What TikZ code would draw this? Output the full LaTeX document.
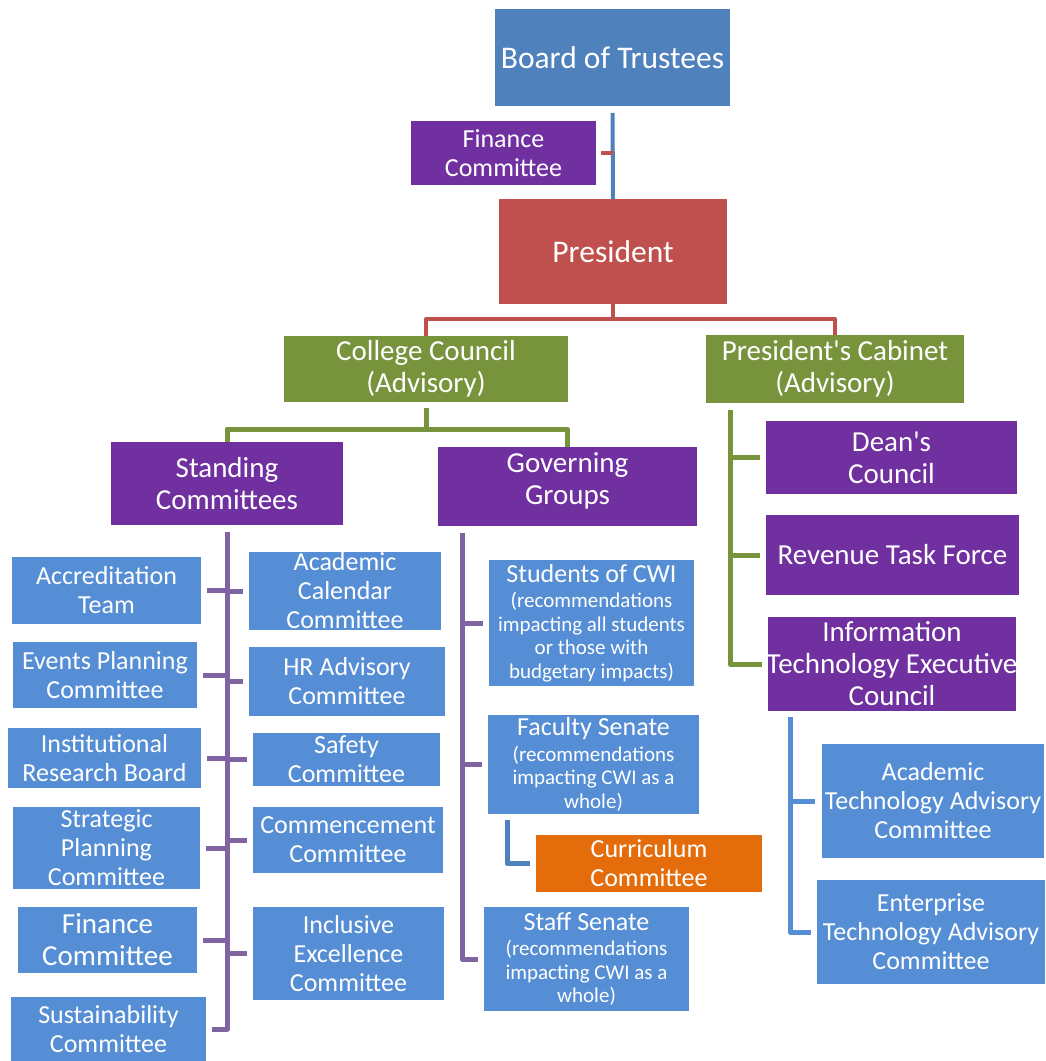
\documentclass[tikz,border=0pt]{standalone}
\usepackage{fontspec}
\setmainfont{Carlito}[Ligatures=TeXOff]
\definecolor{cBlue}{HTML}{4F81BD}
\definecolor{cLBlue}{HTML}{558ED5}
\definecolor{cPurple}{HTML}{7030A0}
\definecolor{cRed}{HTML}{C0504D}
\definecolor{cGreen}{HTML}{77933C}
\definecolor{cOrange}{HTML}{E46C0A}
\definecolor{cPurCon}{HTML}{8064A2}
\newcommand\orgbox[8]{%
  \node[#6, anchor=north west, minimum width=#4pt, minimum height=#5pt] (#1) at (#2,#3) {};
  \node[txt, #7] (#1-t) at (#1.center) {#8};
}
\newcommand\ttl[1]{{\fontsize{26}{26}\selectfont #1}}
\begin{document}
\begin{tikzpicture}[x=1pt,y=-1pt,
  box/.style={rectangle, inner sep=0pt, outer sep=0pt, draw=none},
  bluebox/.style={box, fill=cBlue},
  lbox/.style={box, fill=cLBlue},
  pbox/.style={box, fill=cPurple},
  rbox/.style={box, fill=cRed},
  gbox/.style={box, fill=cGreen},
  obox/.style={box, fill=cOrange},
  txt/.style={text=white, align=center, inner sep=0pt},
  fA/.style={font=\fontsize{31.5}{34}\selectfont},
  fB/.style={font=\fontsize{29}{32}\selectfont},
  fC/.style={font=\fontsize{26}{29}\selectfont},
  fS/.style={font=\fontsize{21}{23.5}\selectfont},
  con/.style={line width=5pt, line join=round},
  thincon/.style={line width=4pt, line join=round},
]
\useasboundingbox (0,0) rectangle (1045,1061);

% top
\orgbox{bot}{495}{9}{235}{97}{bluebox}{fA}{Board of Trustees}
\orgbox{fin}{411}{121}{185}{64}{pbox}{fC}{Finance\\Committee}
\orgbox{pres}{499}{199}{228}{105}{rbox}{fA}{President}
\orgbox{cc}{284}{336}{284}{66}{gbox}{fB}{College Council\\(Advisory)}
\orgbox{cab}{706}{335}{258}{68}{gbox}{fB}{President's Cabinet\\(Advisory)}
\orgbox{sc}{111}{442}{232}{83}{pbox}{fB}{Standing\\Committees}
\orgbox{gg}{438}{447}{259}{79}{pbox}{fB,yshift=6pt}{Governing\\Groups}

% standing committees
\orgbox{acc}{12}{557}{189}{67}{lbox}{fC}{Accreditation\\Team}
\orgbox{evt}{13}{642}{184}{66}{lbox}{fC}{Events Planning\\Committee}
\orgbox{inst}{8}{728}{193}{60}{lbox}{fC}{Institutional\\Research Board}
\orgbox{strat}{13}{807}{187}{82}{lbox}{fC}{Strategic\\Planning\\Committee}
\orgbox{fintwo}{18}{907}{179}{66}{lbox}{fB}{Finance\\Committee}
\orgbox{sus}{11}{997}{195}{64}{lbox}{fC}{Sustainability\\Committee}
\orgbox{acal}{249}{552}{192}{78}{lbox}{fC}{Academic\\Calendar\\Committee}
\orgbox{hr}{249}{647}{196}{69}{lbox}{fC}{HR Advisory\\Committee}
\orgbox{saf}{253}{733}{187}{53}{lbox}{fC}{Safety\\Committee}
\orgbox{com}{253}{807}{190}{66}{lbox}{fC}{Commencement\\Committee}
\orgbox{inc}{253}{907}{191}{93}{lbox}{fC}{Inclusive\\Excellence\\Committee}

% governing groups
\orgbox{stu}{489}{560}{205}{126}{lbox}{fS}{\ttl{Students of CWI}\\[2pt](recommendations\\impacting all students\\or those with\\budgetary impacts)}
\orgbox{fac}{488}{715}{211}{99}{lbox}{fS}{\ttl{Faculty Senate}\\[2pt](recommendations\\impacting CWI as a\\whole)}
\orgbox{cur}{536}{835}{226}{57}{obox}{fC}{Curriculum\\Committee}
\orgbox{stf}{484}{907}{205}{104}{lbox}{fS}{\ttl{Staff Senate}\\[2pt](recommendations\\impacting CWI as a\\whole)}

% cabinet
\orgbox{dean}{766}{421}{251}{73}{pbox}{fB}{Dean's\\Council}
\orgbox{rev}{766}{515}{253}{80}{pbox}{fB}{Revenue Task Force}
\orgbox{it}{768}{617}{248}{94}{pbox}{fB}{Information\\Technology Executive\\Council}
\orgbox{atac}{822}{744}{222}{114}{lbox}{fC}{Academic\\Technology Advisory\\Committee}
\orgbox{etac}{817}{880}{228}{104}{lbox}{fC}{Enterprise\\Technology Advisory\\Committee}

% connectors: board -> president
\draw[thincon, cBlue, shorten <=7pt] (bot.south) -- (pres.north);
\draw[thincon, cRed, shorten <=5pt] (fin.east) -- (fin.east -| bot.south);

% president -> councils
\coordinate (redbar) at (0,319);
\draw[thincon, cRed] (pres.south) -- (pres.south |- redbar);
\draw[thincon, cRed] (cc.north) |- (pres.south |- redbar) -| (cab.north);

% college council -> groups
\coordinate (grnbar) at (0,429);
\draw[con, cGreen, shorten <=6pt] (cc.south) -- (cc.south |- grnbar);
\draw[con, cGreen] (sc.north) |- (cc.south |- grnbar) -| (gg.north);

% standing committees trunk
\draw[con, cPurCon, shorten <=7pt] (sc.south) |- ([xshift=6pt]sus.east);
\foreach \n in {acc,evt,inst,strat,fintwo}
  \draw[con, cPurCon] ([xshift=6pt]\n.east) -- (\n.east -| sc.south);
\foreach \n in {acal,hr,saf,com,inc}
  \draw[con, cPurCon] ([xshift=-6pt]\n.west) -- (\n.west -| sc.south);

% governing groups trunk
\coordinate (ggtrunk) at ([xshift=24pt]gg.south west);
\draw[con, cPurCon, shorten <=7pt] (ggtrunk) |- ([xshift=-6pt]stf.west);
\foreach \n in {stu,fac}
  \draw[con, cPurCon] ([xshift=-6pt]\n.west) -- (\n.west -| ggtrunk);
\coordinate (factrunk) at ([xshift=19pt]fac.south west);
\draw[con, cBlue, shorten <=6pt] (factrunk) |- ([xshift=-6pt]cur.west);

% cabinet trunk
\coordinate (cabtrunk) at ([xshift=24pt]cab.south west);
\draw[con, cGreen, shorten <=7pt] (cabtrunk) |- ([xshift=-6pt]it.west);
\foreach \n in {dean,rev}
  \draw[con, cGreen] ([xshift=-6pt]\n.west) -- (\n.west -| cabtrunk);

% IT trunk
\coordinate (ittrunk) at ([xshift=22pt]it.south west);
\draw[con, cLBlue, shorten <=6pt] (ittrunk) |- ([xshift=-6pt]etac.west);
\draw[con, cLBlue] ([xshift=-7pt]atac.west) -- (atac.west -| ittrunk);
\end{tikzpicture}
\end{document}
